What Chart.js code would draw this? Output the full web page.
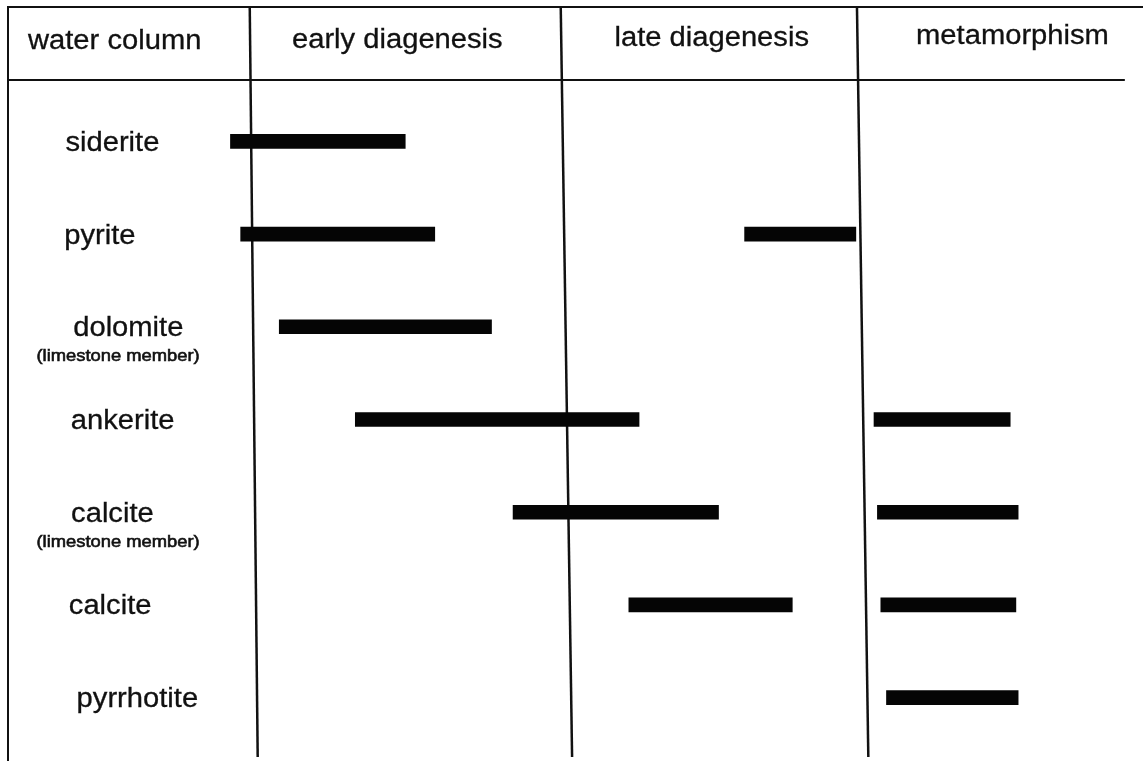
<!DOCTYPE html>
<html>
<head>
<meta charset="utf-8">
<script src="https://cdn.jsdelivr.net/npm/chart.js@4/dist/chart.umd.min.js"></script>
<style>
    html, body { margin: 0; padding: 0; background: #fff; }
    #wrap { width: 1143px; height: 761px; position: relative; }
</style>
</head>
<body>
<div id="wrap"><canvas id="chart"></canvas></div>
<script>
(function () {
    'use strict';

    // --- Data (x in relative time units, 0..100 across the figure) ---

    const minerals = ['siderite', 'pyrite', 'dolomite', 'ankerite', 'calcite', 'calcite', 'pyrrhotite'];
    const notes = ['', '', '(limestone member)', '', '(limestone member)', '', ''];

    // first range of each mineral (water column / diagenesis)
    const firstStart = [19.6, 20.5, 23.9, 30.6, 44.5, 54.7, null];
    const firstEnd = [35.0, 37.6, 42.6, 55.6, 62.6, 69.1, null];

    // second range (late diagenesis / metamorphism)
    const secondStart = [null, 64.9, null, 76.3, 76.6, 76.9, 77.4];
    const secondEnd = [null, 74.7, null, 88.3, 89.0, 88.8, 89.0];

    const stages = ['water column', 'early diagenesis', 'late diagenesis', 'metamorphism'];
    // stage boundaries, read at the top and at the bottom of the (slightly skewed) scan
    const boundaryTop = [21.3, 48.7, 74.8];
    const boundaryBottom = [22.0, 49.7, 75.8];

    // --- Layout (kept apart from the data) ---

    const stageLabelX = [9.4, 34.3, 62.0, 88.5];
    const stageLabelY = [42, 41, 39, 37];
    const mineralLabelX = [9.2, 8.1, 10.6, 10.1, 9.2, 9.0, 11.4];
    const FONT = '"Liberation Sans", Arial, Helvetica, sans-serif';
    const STRETCH = 1.08;

    function pairs(a, b) {
        return a.map((v, i) => (v === null ? null : [v, b[i]]));
    }

    function stretchedText(ctx, text, x, y, size, weight) {
        ctx.save();
        ctx.font = size + 'px ' + FONT;
        ctx.textAlign = 'center';
        ctx.textBaseline = 'middle';
        ctx.translate(x, y);
        ctx.scale(STRETCH, 1);
        ctx.fillText(text, 0, 0);
        if (weight) {
            // scanned print looks a little heavier than the regular face
            ctx.lineWidth = weight;
            ctx.strokeText(text, 0, 0);
        }
        ctx.restore();
    }

    const framePlugin = {
        id: 'frame',
        beforeDatasetsDraw(chart) {
            const ctx = chart.ctx;
            const xs = chart.scales.x;
            const H = chart.height;
            const W = chart.width;
            const left = xs.getPixelForValue(0);

            ctx.save();
            ctx.strokeStyle = '#111';

            // outer frame (top + left)
            ctx.lineWidth = 2;
            ctx.beginPath();
            ctx.moveTo(left, H);
            ctx.lineTo(left, 7);
            ctx.lineTo(W, 7);
            ctx.stroke();

            // header rule
            ctx.beginPath();
            ctx.moveTo(left, 80);
            ctx.lineTo(xs.getPixelForValue(98.4), 80);
            ctx.stroke();

            // stage boundaries
            ctx.lineWidth = 2.5;
            boundaryTop.forEach((t, i) => {
                ctx.beginPath();
                ctx.moveTo(xs.getPixelForValue(t), 8);
                ctx.lineTo(xs.getPixelForValue(boundaryBottom[i]), 757);
                ctx.stroke();
            });
            ctx.restore();
        },
        afterDraw(chart) {
            const ctx = chart.ctx;
            const xs = chart.scales.x;
            const ys = chart.scales.y;
            ctx.save();
            ctx.fillStyle = '#111';
            ctx.strokeStyle = '#111';

            stages.forEach((s, i) => {
                stretchedText(ctx, s, xs.getPixelForValue(stageLabelX[i]), stageLabelY[i], 27, 0.3);
            });

            minerals.forEach((m, i) => {
                const y = ys.getPixelForValue(i);
                const x = xs.getPixelForValue(mineralLabelX[i]);
                stretchedText(ctx, m, x, y + 2, 27, 0.3);
                if (notes[i]) {
                    stretchedText(ctx, notes[i], xs.getPixelForValue(9.7), y + 30, 17, 0.6);
                }
            });
            ctx.restore();
        },
    };

    new Chart(document.getElementById('chart'), {
        type: 'bar',
        data: {
            labels: minerals,
            datasets: [
                {
                    label: 'first range',
                    data: pairs(firstStart, firstEnd),
                    backgroundColor: '#050505',
                    borderWidth: 0,
                    barThickness: 14,
                    grouped: false,
                },
                {
                    label: 'second range',
                    data: pairs(secondStart, secondEnd),
                    backgroundColor: '#050505',
                    borderWidth: 0,
                    barThickness: 14,
                    grouped: false,
                },
            ],
        },
        options: {
            indexAxis: 'y',
            responsive: true,
            maintainAspectRatio: false,
            animation: false,
            layout: { padding: { top: 95, bottom: 17, left: 8, right: 0 } },
            plugins: {
                legend: { display: false },
                tooltip: { enabled: false },
            },
            scales: {
                x: { type: 'linear', min: 0, max: 100, display: false },
                y: { display: false },
            },
        },
        plugins: [framePlugin],
    });
})();
</script>
</body>
</html>
